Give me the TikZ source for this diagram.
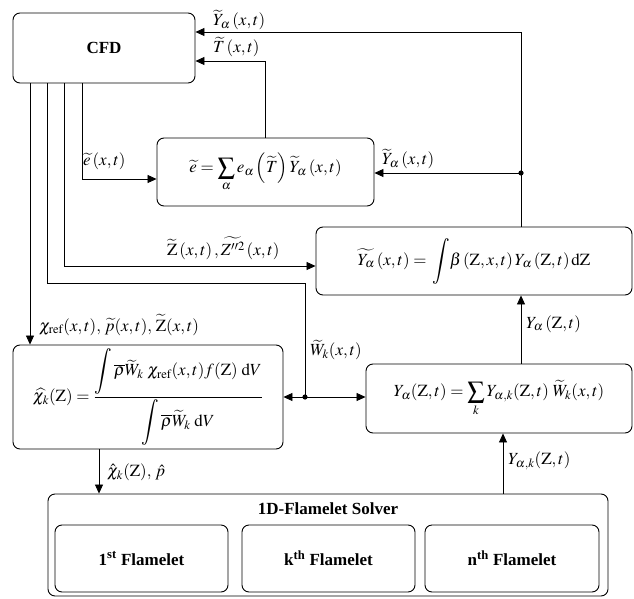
\documentclass[tikz,border=0pt]{standalone}
\usepackage{mathptmx}
\usepackage[no-math]{fontspec}
\usepackage{graphicx}
\setmainfont{Liberation Serif}
\usetikzlibrary{arrows.meta}
\newcommand{\Lint}{\mathop{\vcenter{\hbox{\scalebox{1.15}[1.35]{$\displaystyle\int$}}}}\nolimits}
\begin{document}
\begin{tikzpicture}[x=1pt,y=-1pt,
	blk/.style={draw,rounded corners=7pt,line width=0.9pt,inner sep=0pt},
	arw/.style={-{Triangle[length=9pt,width=8pt]},line width=0.8pt},
	lbl/.style={inner sep=1pt,anchor=west},
	font=\fontsize{17}{20}\selectfont]
  \useasboundingbox (0,0) rectangle (634,599);
  	\node [blk,minimum width=182pt,minimum height=70pt,font=\fontsize{17}{20}\selectfont\bfseries] (cfd) at (104,48) {CFD};
	\node [blk,minimum width=217pt,minimum height=68pt] (ebox) at (265.5,172) {$\displaystyle \widetilde{e}=\sum_{\alpha} e_{\alpha}\left(\widetilde{T}\right)\widetilde{Y}_{\alpha}\,(x,t)$};
	\node [blk,minimum width=316pt,minimum height=68pt] (ytbox) at (474,261) {$\displaystyle \widetilde{Y_{\alpha}}\,(x,t)=\,\Lint\!\beta\,(\mathrm{Z},x,t)\,Y_{\alpha}\,(\mathrm{Z},t)\,\mathrm{dZ}$};
	\node [blk,minimum width=270pt,minimum height=104pt] (chibox) at (148,397) {$\displaystyle \widehat{\chi_k}(\mathrm{Z})=\frac{\Lint\overline{\rho}\widetilde{W}_k\;\chi_{\mathrm{ref}}(x,t)f(\mathrm{Z})\;\mathrm{d}V}{\Lint\overline{\rho}\widetilde{W}_k\;\mathrm{d}V}$};
	\node [blk,minimum width=266pt,minimum height=69pt] (yabox) at (499,398.5) {$\displaystyle Y_{\alpha}(\mathrm{Z},t)=\sum_{k} Y_{\alpha,k}(\mathrm{Z},t)\;\widetilde{W}_k(x,t)$};
	\node [blk,minimum width=560pt,minimum height=102pt] (solver) at (328,545) {};
	 \node [font=\fontsize{17}{20}\selectfont\bfseries] (stitle) at (328,509) {1D-Flamelet Solver};
	 \node [blk,minimum width=173pt,minimum height=67pt,font=\fontsize{17}{20}\selectfont\bfseries] (fone) at (141.5,558.5) {1\textsuperscript{st} Flamelet};
	 \node [blk,minimum width=173pt,minimum height=67pt,font=\fontsize{17}{20}\selectfont\bfseries] (fk) at (328.5,558.5) {k\textsuperscript{th} Flamelet};
	 \node [blk,minimum width=174pt,minimum height=67pt,font=\fontsize{17}{20}\selectfont\bfseries] (fn) at (512,558.5) {n\textsuperscript{th} Flamelet};
  	\coordinate (ytop) at (521,32);
	\coordinate (ttop) at (265,61);
	\coordinate (jy) at (521,173);
	\coordinate (ebend) at (82,179);
	\coordinate (zbend) at (64,266);
	\coordinate (wbend) at (47,283);
	\coordinate (jw) at (305,397);
	\coordinate (chix) at (30,345);
	\coordinate (hatx) at (99,449);
	\coordinate (ykx) at (503,494);
	\draw[arw] (ytbox.north -| ytop) -- (ytop) -- (cfd.east |- ytop);
	\draw[arw] (ebox.north |- ebox.north) |- (cfd.east |- ttop);
	\draw[arw] (jy) -- (ebox.east |- jy);
	\fill (jy) circle (2.6pt);
	\draw[arw] (cfd.south -| ebend) |- (ebox.west |- ebend);
	\draw[arw] (cfd.south -| zbend) |- (ytbox.west |- zbend);
	\draw[line width=0.8pt] (cfd.south -| wbend) |- (jw |- wbend) -- (jw);
	\draw[arw] (jw) -- (chibox.east |- jw);
	\draw[arw] (jw) -- (yabox.west |- jw);
	\fill (jw) circle (2.6pt);
	\draw[arw] (cfd.south -| chix) -- (chibox.north -| chix);
	\draw[arw] (yabox.north -| ytop) -- (ytbox.south -| ytop);
	\draw[arw] (chibox.south -| hatx) -- (solver.north -| hatx);
	\draw[arw] (solver.north -| ykx) -- (yabox.south -| ykx);
	 \node [lbl] (l1) at (212,20) {$\widetilde{Y}_{\alpha}\,(x,t)$};
	 \node [lbl] (l2) at (212,47) {$\widetilde{T}\,(x,t)$};
	 \node [lbl] (l3) at (82,161) {$\widetilde{e}\,(x,t)$};
	 \node [lbl] (l4) at (381,159) {$\widetilde{Y}_{\alpha}\,(x,t)$};
	 \node [lbl] (l5) at (166,248) {$\widetilde{\mathrm{Z}}\,(x,t)\,,\widetilde{Z''^{2}}\,(x,t)$};
	 \node [lbl] (l6) at (38,325) {$\chi_{\mathrm{ref}}(x,t),\,\widetilde{p}(x,t),\,\widetilde{\mathrm{Z}}(x,t)$};
	 \node [lbl] (l7) at (309,350) {$\widetilde{W}_k(x,t)$};
	 \node [lbl] (l8) at (525,324) {$Y_{\alpha}\,(\mathrm{Z},t)$};
	 \node [lbl] (l9) at (507,461) {$Y_{\alpha,k}(\mathrm{Z},t)$};
	 \node [lbl] (l10) at (106,472) {$\hat{\chi}_k(\mathrm{Z}),\,\hat{p}$};
\end{tikzpicture}
\end{document}
